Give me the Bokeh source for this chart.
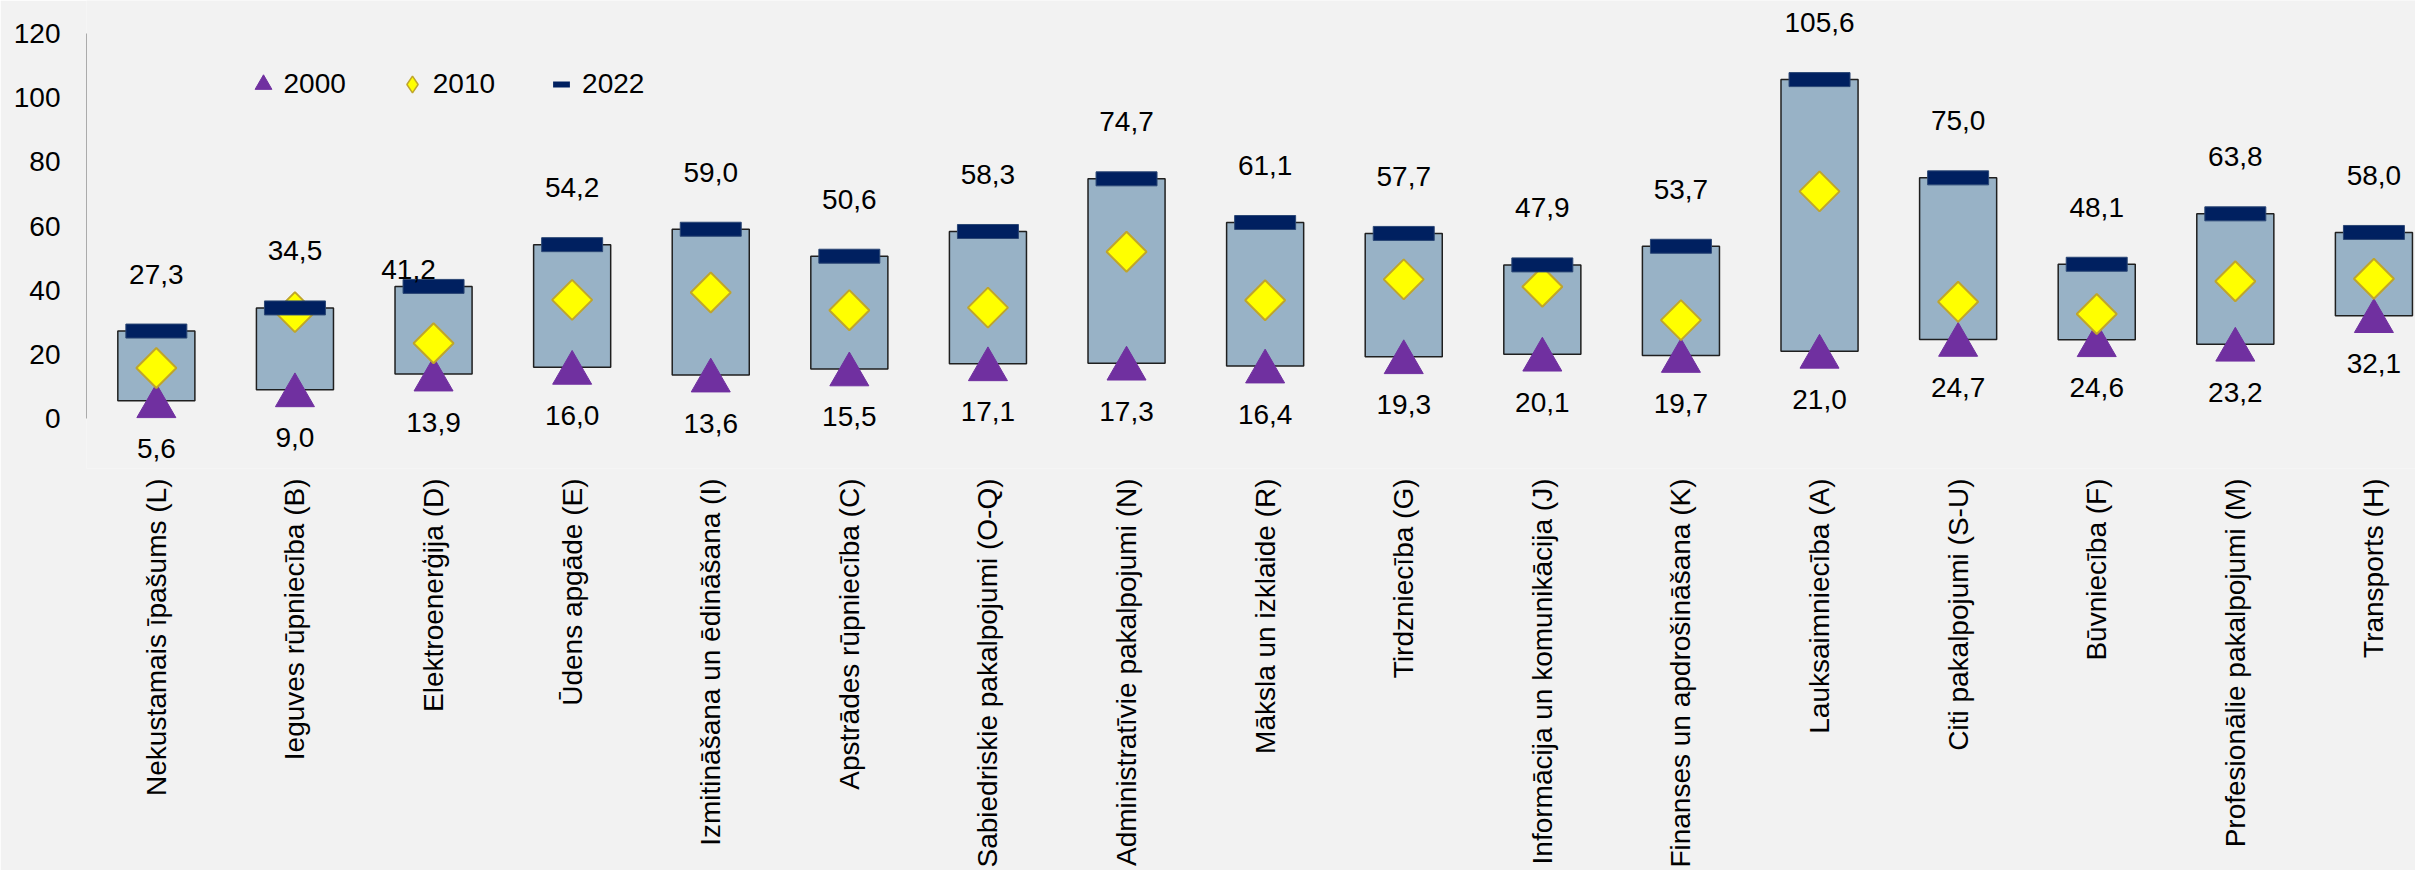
import numpy as np
from bokeh.plotting import figure
from bokeh.models import ColumnDataSource, Range1d, FixedTicker, Legend, LegendItem
from bokeh.core.properties import value
from bokeh.embed import file_html
from bokeh.resources import INLINE

# ---------------- data ----------------
categories = [
    "Nekustamais īpašums (L)",
    "Ieguves rūpniecība (B)",
    "Elektroenerģija (D)",
    "Ūdens apgāde (E)",
    "Izmitināšana un ēdināšana (I)",
    "Apstrādes rūpniecība (C)",
    "Sabiedriskie pakalpojumi (O-Q)",
    "Administratīvie pakalpojumi (N)",
    "Māksla un izklaide (R)",
    "Tirdzniecība (G)",
    "Informācija un komunikācija (J)",
    "Finanses un apdrošināšana (K)",
    "Lauksaimniecība (A)",
    "Citi pakalpojumi (S-U)",
    "Būvniecība (F)",
    "Profesionālie pakalpojumi (M)",
    "Transports (H)",
]
v2000 = [5.6, 9.0, 13.9, 16.0, 13.6, 15.5, 17.1, 17.3, 16.4, 19.3, 20.1, 19.7, 21.0, 24.7, 24.6, 23.2, 32.1]
v2010 = [15.8, 33.2, 23.5, 37.0, 39.3, 33.8, 34.6, 52.0, 36.9, 43.4, 41.1, 30.7, 70.8, 36.4, 32.6, 42.8, 43.6]
v2022 = [27.3, 34.5, 41.2, 54.2, 59.0, 50.6, 58.3, 74.7, 61.1, 57.7, 47.9, 53.7, 105.6, 75.0, 48.1, 63.8, 58.0]
y_ticks = [0, 20, 40, 60, 80, 100, 120]
series_names = ["2000", "2010", "2022"]

# ---------------- style ----------------
FONT = "Liberation Sans"
BG = "#F2F2F2"
BOX_FILL = "#98B2C6"
BOX_LINE = "#1F1F1F"
C2000 = "#7030A0"
C2010 = "#FFFF00"
C2010_LINE = "#BFA52C"
C2022 = "#002060"

Y0, Y1 = -15.5, 130.23          # main value range (frame height 470 px)
PX_PER_UNIT = 470 / (Y1 - Y0)
TRI_SIZE = 39
# Bokeh centres triangles on their centroid; the original centres the bounding box
tri_shift = (TRI_SIZE * np.sqrt(3) / 2 / 6) / PX_PER_UNIT


def fmt(v):
    return f"{v:.1f}".replace(".", ",")


idx = list(range(len(categories)))
# manual label nudge seen in the original (screen px)
nudge = {"Elektroenerģija (D)": (-25, 40)}
top_dx = [nudge.get(c, (0, 0))[0] for c in categories]
top_dy = [-57 + nudge.get(c, (0, 0))[1] for c in categories]

src = ColumnDataSource(dict(
    x=idx, cat=categories, y0=v2000, y1=v2010, y2=v2022,
    t0=[fmt(v) for v in v2000], t2=[fmt(v) for v in v2022],
    dx=top_dx, dy=top_dy,
))

p = figure(
    width=2415, height=870, output_backend="svg", toolbar_location=None,
    x_range=Range1d(-0.504, 16.30), y_range=Range1d(Y0, Y1),
    min_border_left=86, min_border_right=0, min_border_top=0, min_border_bottom=400,
    background_fill_color=BG, border_fill_color=BG, outline_line_color=None,
)
p.extra_y_ranges = {"tri": Range1d(Y0 + tri_shift, Y1 + tri_shift)}
p.xgrid.grid_line_color = None
p.ygrid.grid_line_color = None

xa = p.xaxis[0]
xa.ticker = FixedTicker(ticks=idx)
xa.major_label_overrides = {i: c for i, c in zip(idx, categories)}
xa.major_label_orientation = np.pi / 2
xa.axis_line_color = None
xa.major_tick_line_color = None
xa.minor_tick_line_color = None
xa.major_tick_out = 0
xa.minor_tick_out = 0
xa.major_label_standoff = 10
xa.major_label_text_font = FONT
xa.major_label_text_font_size = "28px"
xa.major_label_text_color = "#000000"

ya = p.yaxis[0]
ya.ticker = FixedTicker(ticks=y_ticks)
ya.bounds = (0, 120)
ya.axis_line_color = "#ABABAB"
ya.axis_line_width = 1
ya.major_tick_line_color = None
ya.minor_tick_line_color = None
ya.major_tick_out = 0
ya.major_tick_in = 0
ya.minor_tick_out = 0
ya.major_label_standoff = 26
ya.major_label_text_font = FONT
ya.major_label_text_font_size = "28px"
ya.major_label_text_color = "#000000"

# boxes 2000 -> 2022
p.vbar(x="x", bottom="y0", top="y2", width=0.556, source=src,
       fill_color=BOX_FILL, line_color=BOX_LINE, line_width=1.5)

tri = p.scatter(x="x", y="y0", source=src, marker="triangle", size=TRI_SIZE,
                y_range_name="tri",
                fill_color=C2000, line_color=C2000, line_width=1)
dia = p.scatter(x="x", y="y1", source=src, marker="square", angle=np.pi / 4, size=28.3,
                fill_color=C2010, line_color=C2010_LINE, line_width=2)
p.rect(x="x", y="y2", width=0.44, height=14, height_units="screen", source=src,
       fill_color=C2022, line_color="#2B4775", line_width=1)

p.text(x="x", y="y2", text="t2", x_offset="dx", y_offset="dy", source=src,
       text_align="center", text_baseline="middle", text_font=value(FONT),
       text_font_size="28px", text_color="#000000")
p.text(x="x", y="y0", text="t0", y_offset=48, source=src,
       text_align="center", text_baseline="middle", text_font=value(FONT),
       text_font_size="28px", text_color="#000000")

# legend helper glyphs (not drawn in the plot area)
leg_src = ColumnDataSource(dict(x=np.array([np.nan]), y=np.array([np.nan])))
dia_leg = p.scatter(x="x", y="y", source=leg_src, marker="diamond", size=18,
                    fill_color=C2010, line_color=C2010_LINE, line_width=1.5)
dash_leg = p.scatter(x="x", y="y", source=leg_src, marker="dash", size=18,
                     line_color=C2022, line_width=6)

legend = Legend(
    items=[LegendItem(label=series_names[0], renderers=[tri]),
           LegendItem(label=series_names[1], renderers=[dia_leg]),
           LegendItem(label=series_names[2], renderers=[dash_leg])],
    orientation="horizontal", location=(155.5, 363),
    glyph_width=42, glyph_height=42, label_standoff=0, spacing=45,
    padding=0, margin=0, background_fill_alpha=0, border_line_alpha=0,
    label_text_font=FONT, label_text_font_size="28px", label_text_color="#000000",
)
p.add_layout(legend)

open("out.html", "w").write(file_html(p, INLINE))
